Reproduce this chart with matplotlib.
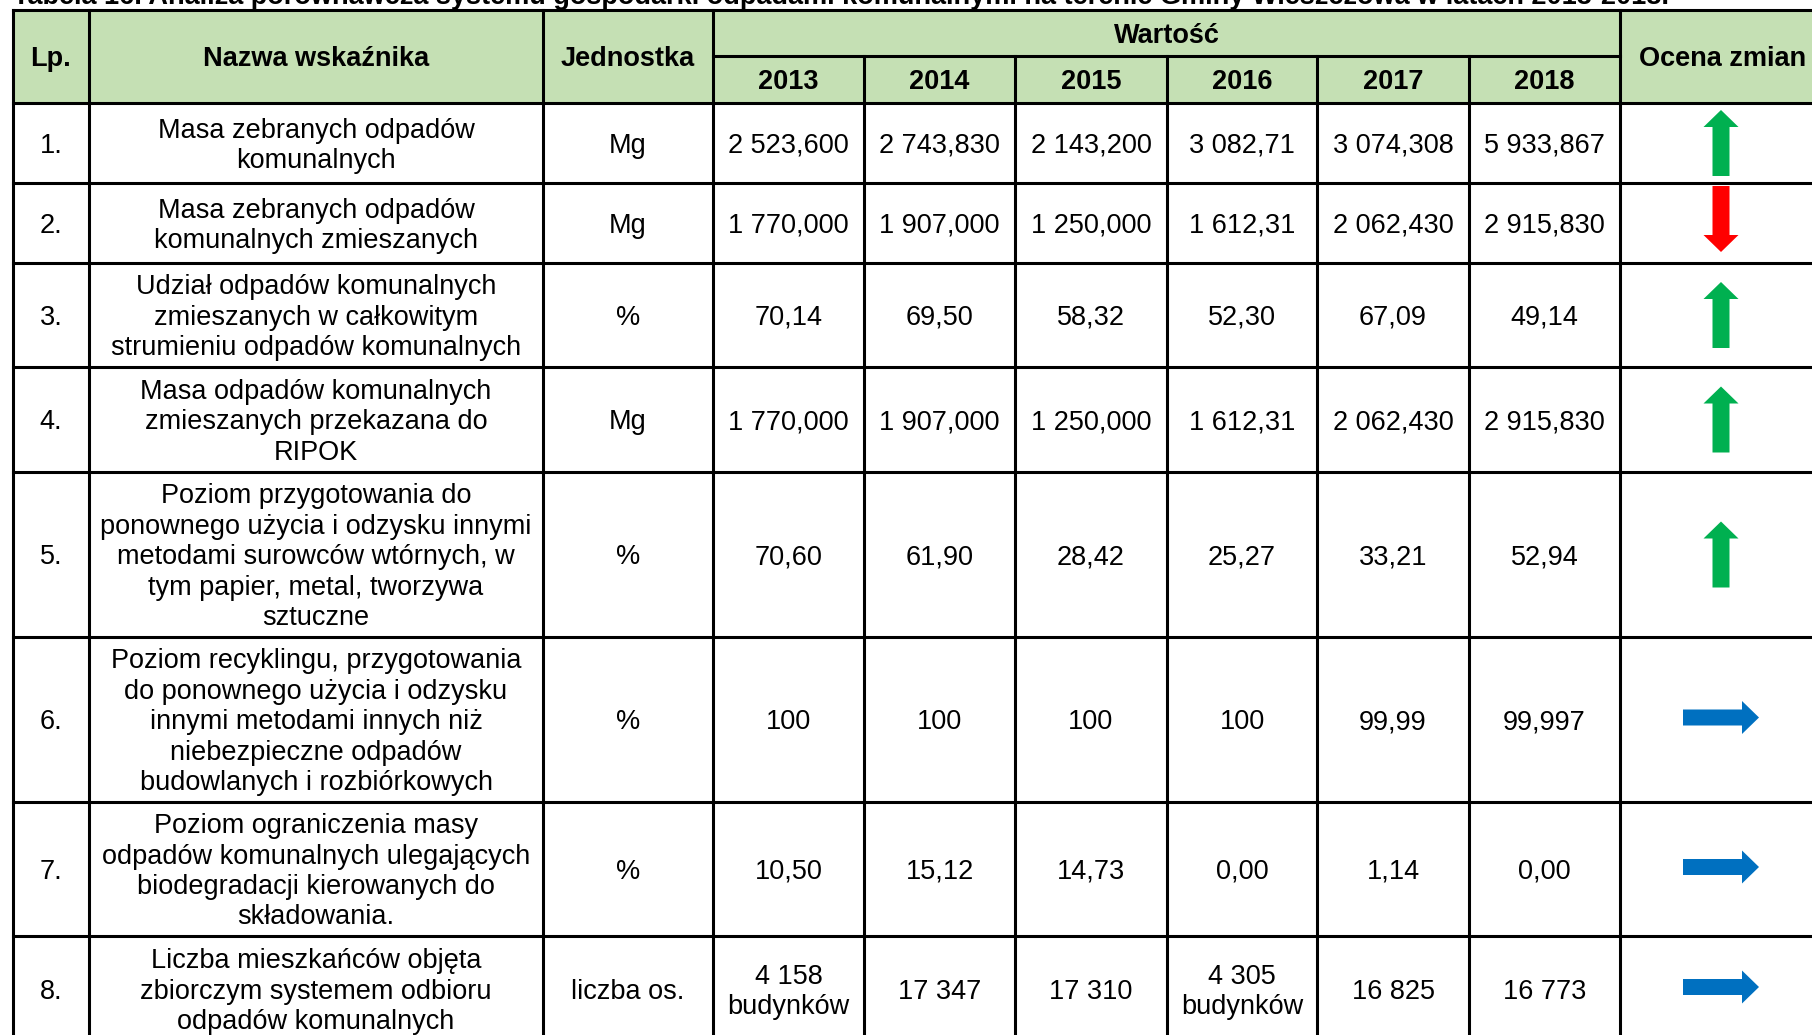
import matplotlib
matplotlib.use("Agg")
import matplotlib.pyplot as plt
from matplotlib import font_manager as fm
from matplotlib.patches import Rectangle, FancyArrow

# ---------------- data ----------------
caption = ("Tabela 16. Analiza porównawcza systemu gospodarki odpadami komunalnymi "
           "na terenie Gminy Wieszczowa w latach 2013-2018.")
header_lp = "Lp."
header_name = "Nazwa wskaźnika"
header_unit = "Jednostka"
header_value = "Wartość"
header_trend = "Ocena zmian"
years = ["2013", "2014", "2015", "2016", "2017", "2018"]

lp = ["1.", "2.", "3.", "4.", "5.", "6.", "7.", "8."]
names = [
    "Masa zebranych odpadów\nkomunalnych",
    "Masa zebranych odpadów\nkomunalnych zmieszanych",
    "Udział odpadów komunalnych\nzmieszanych w całkowitym\nstrumieniu odpadów komunalnych",
    "Masa odpadów komunalnych\nzmieszanych przekazana do\nRIPOK",
    "Poziom przygotowania do\nponownego użycia i odzysku innymi\nmetodami surowców wtórnych, w\ntym papier, metal, tworzywa\nsztuczne",
    "Poziom recyklingu, przygotowania\ndo ponownego użycia i odzysku\ninnymi metodami innych niż\nniebezpieczne odpadów\nbudowlanych i rozbiórkowych",
    "Poziom ograniczenia masy\nodpadów komunalnych ulegających\nbiodegradacji kierowanych do\nskładowania.",
    "Liczba mieszkańców objęta\nzbiorczym systemem odbioru\nodpadów komunalnych",
]
units = ["Mg", "Mg", "%", "Mg", "%", "%", "%", "liczba os."]

v2013 = ["2 523,600", "1 770,000", "70,14", "1 770,000", "70,60", "100", "10,50", "4 158\nbudynków"]
v2014 = ["2 743,830", "1 907,000", "69,50", "1 907,000", "61,90", "100", "15,12", "17 347"]
v2015 = ["2 143,200", "1 250,000", "58,32", "1 250,000", "28,42", "100", "14,73", "17 310"]
v2016 = ["3 082,71", "1 612,31", "52,30", "1 612,31", "25,27", "100", "0,00", "4 305\nbudynków"]
v2017 = ["3 074,308", "2 062,430", "67,09", "2 062,430", "33,21", "99,99", "1,14", "16 825"]
v2018 = ["5 933,867", "2 915,830", "49,14", "2 915,830", "52,94", "99,997", "0,00", "16 773"]
values = [v2013, v2014, v2015, v2016, v2017, v2018]

trend = ["up", "down", "up", "up", "up", "right", "right", "right"]
trend_colors = {"up": "#00B050", "down": "#FF0000", "right": "#0070C0"}

# ---------------- layout (pixels) ----------------
W, H = 1812, 1035
col_edges = [13, 89, 543, 713, 864, 1015, 1167, 1317, 1469, 1620, 1826]
head_top, head_mid, head_bot = 10, 56, 103
row_edges = [103, 183, 263, 367, 472, 637, 802, 936, 1042]
header_fill = "#C5E0B4"
lw = 2.2


def has_font(name):
    try:
        fm.findfont(fm.FontProperties(family=name), fallback_to_default=False)
        return True
    except Exception:
        return False


if has_font("Liberation Sans Narrow"):
    fam = ["Liberation Sans Narrow", "DejaVu Sans"]
    fs = 22.5
else:
    fam = ["Liberation Sans", "DejaVu Sans"]
    fs = 19.5
em_px = fs * 100 / 72.0
pitch = 30.4

fig = plt.figure(figsize=(W / 100, H / 100), dpi=100)
ax = fig.add_axes([0, 0, 1, 1])
ax.set_xlim(0, W)
ax.set_ylim(H, 0)
ax.axis("off")


def cell_text(x, yc, s, bold=False):
    lines = s.split("\n")
    n = len(lines)
    for k, line in enumerate(lines):
        y = yc + (k - (n - 1) / 2) * pitch + 0.36 * em_px
        ax.text(x, y, line, ha="center", va="baseline", fontsize=fs,
                family=fam, fontweight="bold" if bold else "normal", color="black")


# header background
ax.add_patch(Rectangle((col_edges[0], head_top), col_edges[-1] - col_edges[0],
                       head_bot - head_top, facecolor=header_fill, edgecolor="none", zorder=0))

# caption (cut by the top edge)
ax.text(col_edges[0], 3.5, caption, ha="left", va="baseline", fontsize=fs,
        family=fam, fontweight="bold", color="black")

# grid lines
kw = dict(color="black", lw=lw, solid_capstyle="projecting", zorder=3)
ax.plot([col_edges[0], col_edges[-1]], [head_top, head_top], **kw)
ax.plot([col_edges[3], col_edges[9]], [head_mid, head_mid], **kw)
for y in row_edges:
    ax.plot([col_edges[0], col_edges[-1]], [y, y], **kw)
for i, x in enumerate(col_edges):
    top = head_mid if 4 <= i <= 8 else head_top
    ax.plot([x, x], [top, row_edges[-1]], **kw)

# header text
ymid_head = (head_top + head_bot) / 2
cell_text((col_edges[0] + col_edges[1]) / 2, ymid_head, header_lp, bold=True)
cell_text((col_edges[1] + col_edges[2]) / 2, ymid_head, header_name, bold=True)
cell_text((col_edges[2] + col_edges[3]) / 2, ymid_head, header_unit, bold=True)
cell_text((col_edges[3] + col_edges[9]) / 2, (head_top + head_mid) / 2, header_value, bold=True)
cell_text((col_edges[9] + col_edges[10]) / 2, ymid_head, header_trend, bold=True)
for j, yr in enumerate(years):
    cell_text((col_edges[3 + j] + col_edges[4 + j]) / 2, (head_mid + head_bot) / 2, yr, bold=True)

# body
for i in range(len(lp)):
    yc = (row_edges[i] + row_edges[i + 1]) / 2
    cell_text((col_edges[0] + col_edges[1]) / 2, yc, lp[i])
    cell_text((col_edges[1] + col_edges[2]) / 2, yc, names[i])
    cell_text((col_edges[2] + col_edges[3]) / 2, yc, units[i])
    for j in range(len(years)):
        cell_text((col_edges[3 + j] + col_edges[4 + j]) / 2, yc, values[j][i])
    xc = (col_edges[9] + col_edges[10]) / 2 - 2
    c = trend_colors[trend[i]]
    if trend[i] == "up":
        arr = FancyArrow(xc, yc + 33, 0, -66, width=17, head_width=35, head_length=17,
                         length_includes_head=True, color=c, lw=0)
    elif trend[i] == "down":
        arr = FancyArrow(xc, yc - 37, 0, 66, width=17, head_width=35, head_length=17,
                         length_includes_head=True, color=c, lw=0)
    else:
        arr = FancyArrow(xc - 38, yc - 2, 76, 0, width=16, head_width=33, head_length=17,
                         length_includes_head=True, color=c, lw=0)
    ax.add_patch(arr)

fig.savefig("out.png", dpi=100)
